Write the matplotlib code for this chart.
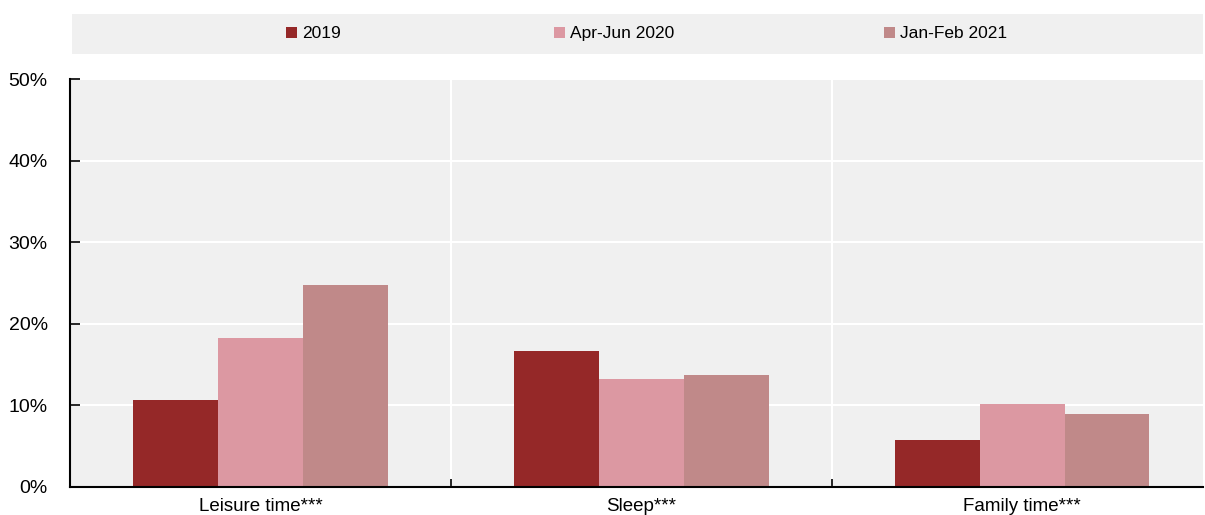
import matplotlib.pyplot as plt
from matplotlib.patches import Patch
import numpy as np

categories = ["Leisure time***", "Sleep***", "Family time***"]
series = ["2019", "Apr-Jun 2020", "Jan-Feb 2021"]
values_2019 = [10.6, 16.7, 5.8]
values_2020 = [18.3, 13.2, 10.2]
values_2021 = [24.8, 13.7, 8.9]
colors = ["#952828", "#dc98a2", "#c08989"]

plt.rcParams["font.family"] = ["Liberation Sans", "DejaVu Sans"]
plt.rcParams["font.size"] = 14

fig = plt.figure(figsize=(12.05, 5.15), dpi=100)
ax = fig.add_axes([0.0581, 0.0544, 0.9399, 0.7922])
ax.set_facecolor("#f0f0f0")

x = np.arange(len(categories))
width = 0.223
for i, vals in enumerate([values_2019, values_2020, values_2021]):
    ax.bar(x + (i - 1) * width, vals, width=width, color=colors[i],
           linewidth=0, zorder=3)

ax.set_xlim(-0.5, 2.474)
ax.set_ylim(0, 50)
ax.set_yticks(np.arange(0, 51, 10))
ax.set_yticklabels([f"{v}%" for v in range(0, 51, 10)])
ax.set_xticks([0.5, 1.5])
ax.set_xticklabels([])
ax.set_xticks(x, minor=True)
ax.set_xticklabels(categories, minor=True, fontsize=13.5)
ax.tick_params(axis="x", which="minor", length=0, pad=8)
ax.tick_params(axis="x", which="major", direction="in", length=6, width=1.2)
ax.tick_params(axis="y", direction="in", length=7, width=1.2, pad=16)

ax.grid(True, which="major", color="white", linewidth=1.5, zorder=0)
for side in ["top", "right"]:
    ax.spines[side].set_visible(False)
for side in ["left", "bottom"]:
    ax.spines[side].set_linewidth(1.5)
    ax.spines[side].set_zorder(4)

# legend band across the top, one entry per fixed slot
band = plt.Rectangle((0.0598, 0.895), 0.9382, 0.078, transform=fig.transFigure,
                     facecolor="#f0f0f0", edgecolor="none")
fig.patches.append(band)
slots = [0.2373, 0.4597, 0.7336]
for name, color, sx in zip(series, colors, slots):
    fig.legend(handles=[Patch(facecolor=color, edgecolor="none", label=name)],
               loc="center left", bbox_to_anchor=(sx, 0.934), frameon=False,
               borderpad=0, borderaxespad=0, handlelength=0.65, handleheight=0.65,
               handletextpad=0.3, fontsize=12.5)

fig.savefig("out.png", dpi=100)
